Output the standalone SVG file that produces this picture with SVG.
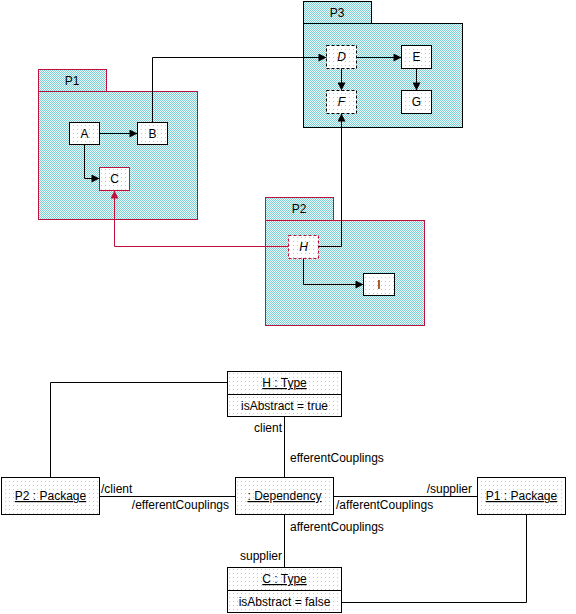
<svg xmlns="http://www.w3.org/2000/svg" width="576" height="614" viewBox="0 0 576 614">
<defs>
<pattern id="hatch" width="2" height="2" patternUnits="userSpaceOnUse">
<rect width="2" height="2" fill="#eef9f9"/>
<rect width="1" height="1" fill="#7ccfd4"/>
<rect x="1" y="1" width="1" height="1" fill="#7ccfd4"/>
</pattern>
<pattern id="dots" width="4" height="4" patternUnits="userSpaceOnUse">
<rect width="4" height="4" fill="#ffffff"/>
<rect x="1" y="1" width="1" height="1" fill="#c8c8c8"/>
</pattern>
<marker id="ah" viewBox="0 0 10 10" refX="10" refY="5" markerWidth="9" markerHeight="8" markerUnits="userSpaceOnUse" orient="auto">
<path d="M0,0 L10,5 L0,10 z" fill="#000"/>
</marker>
<marker id="ahr" viewBox="0 0 10 10" refX="10" refY="5" markerWidth="9" markerHeight="8" markerUnits="userSpaceOnUse" orient="auto">
<path d="M0,0 L10,5 L0,10 z" fill="#c0103c"/>
</marker>
</defs>
<style>
text{font-family:"Liberation Sans",Arial,sans-serif;font-size:12px;fill:#000}
.c{text-anchor:middle}
.e{text-anchor:end}
.u{text-decoration:underline}
.i{font-style:italic}
.pkg{fill:url(#hatch);stroke:#c0103c;stroke-width:1}
.pkgb{fill:url(#hatch);stroke:#000;stroke-width:1}
.n{fill:url(#dots);stroke:#000;stroke-width:1}
.nd{fill:url(#dots);stroke:#000;stroke-width:1;stroke-dasharray:3,2}
.ndr{fill:url(#dots);stroke:#c0103c;stroke-width:1;stroke-dasharray:3,2}
.nr{fill:url(#dots);stroke:#c0103c;stroke-width:1}
.l{fill:none;stroke:#000;stroke-width:1}
.lr{fill:none;stroke:#c0103c;stroke-width:1}
</style>
<g id="P1">
<rect class="pkg" x="38.5" y="69.5" width="68" height="22"/>
<rect class="pkg" x="38.5" y="91.5" width="159" height="128"/>
<text class="c" x="72" y="85">P1</text>
</g>
<g id="P3">
<rect class="pkgb" x="303.5" y="1.5" width="68" height="22"/>
<rect class="pkgb" x="303.5" y="23.5" width="159" height="104"/>
<text class="c" x="337" y="17">P3</text>
</g>
<g id="P2">
<rect class="pkg" x="265.5" y="197.5" width="68" height="23"/>
<rect class="pkg" x="265.5" y="220.5" width="159" height="105"/>
<text class="c" x="299" y="213">P2</text>
</g>
<g id="A"><rect class="n" x="69.5" y="122.5" width="30" height="22"/><text class="c" x="84.5" y="138">A</text></g>
<g id="B"><rect class="n" x="137.5" y="122.5" width="30" height="22"/><text class="c" x="152.5" y="138">B</text></g>
<g id="C"><rect class="nr" x="99.5" y="167.5" width="30" height="23"/><text class="c" x="114.5" y="183">C</text></g>
<g id="D"><rect class="nd" x="326.5" y="45.5" width="30" height="23"/><text class="c i" x="341.5" y="61">D</text></g>
<g id="E"><rect class="n" x="401.5" y="45.5" width="30" height="23"/><text class="c" x="416.5" y="61">E</text></g>
<g id="F"><rect class="nd" x="326.5" y="90.5" width="30" height="23"/><text class="c i" x="341.5" y="106">F</text></g>
<g id="G"><rect class="n" x="401.5" y="90.5" width="30" height="23"/><text class="c" x="416.5" y="106">G</text></g>
<g id="H"><rect class="ndr" x="288.5" y="235.5" width="30" height="23"/><text class="c i" x="303.5" y="251">H</text></g>
<g id="I"><rect class="n" x="363.5" y="273.5" width="31" height="22"/><text class="c" x="379" y="289">I</text></g>

<g id="HType"><rect class="n" x="227.5" y="371.5" width="114" height="45"/><line class="l" x1="227.5" y1="394.5" x2="341.5" y2="394.5"/><text class="c u" x="284.5" y="387">H : Type</text><text class="c" x="284.5" y="410">isAbstract = true</text></g>
<g id="CType"><rect class="n" x="227.5" y="567.5" width="114" height="45"/><line class="l" x1="227.5" y1="590.5" x2="341.5" y2="590.5"/><text class="c u" x="284.5" y="583">C : Type</text><text class="c" x="284.5" y="606">isAbstract = false</text></g>
<g id="P2Package"><rect class="n" x="1.5" y="477.5" width="98" height="37"/><text class="c u" x="50.5" y="500">P2 : Package</text></g>
<g id="Dependency"><rect class="n" x="235.5" y="477.5" width="98" height="37"/><text class="c u" x="284.5" y="500">: Dependency</text></g>
<g id="P1Package"><rect class="n" x="477.5" y="477.5" width="88" height="37"/><text class="c u" x="521.5" y="500">P1 : Package</text></g>

<g id="connectors">
<line class="l" x1="99.5" y1="133.5" x2="137.5" y2="133.5" marker-end="url(#ah)"/>
<polyline class="l" points="84.5,144.5 84.5,178.5 99.5,178.5" marker-end="url(#ah)"/>
<polyline class="l" points="152.5,122.5 152.5,57.5 326.5,57.5" marker-end="url(#ah)"/>
<line class="l" x1="356.5" y1="57.5" x2="401.5" y2="57.5" marker-end="url(#ah)"/>
<line class="l" x1="341.5" y1="68.5" x2="341.5" y2="90.5" marker-end="url(#ah)"/>
<line class="l" x1="416.5" y1="68.5" x2="416.5" y2="90.5" marker-end="url(#ah)"/>
<polyline class="l" points="318.5,246.5 341.5,246.5 341.5,113.5" marker-end="url(#ah)"/>
<polyline class="l" points="303.5,258.5 303.5,284.5 363.5,284.5" marker-end="url(#ah)"/>
<polyline class="lr" points="288.5,246.5 114.5,246.5 114.5,190.5" marker-end="url(#ahr)"/>

<polyline class="l" points="227.5,382.5 50.5,382.5 50.5,477.5"/>
<line class="l" x1="99.5" y1="496.5" x2="235.5" y2="496.5"/>
<line class="l" x1="284.5" y1="416.5" x2="284.5" y2="477.5"/>
<line class="l" x1="333.5" y1="496.5" x2="477.5" y2="496.5"/>
<line class="l" x1="284.5" y1="514.5" x2="284.5" y2="567.5"/>
<polyline class="l" points="341.5,602.5 526.5,602.5 526.5,514.5"/>
<text class="e" x="282" y="432">client</text>
<text x="290" y="462">efferentCouplings</text>
<text x="101" y="493">/client</text>
<text class="e" x="229" y="509">/efferentCouplings</text>
<text class="e" x="472" y="493">/supplier</text>
<text x="336" y="509">/afferentCouplings</text>
<text x="290" y="531">afferentCouplings</text>
<text class="e" x="282" y="560">supplier</text>
</g>
</svg>
